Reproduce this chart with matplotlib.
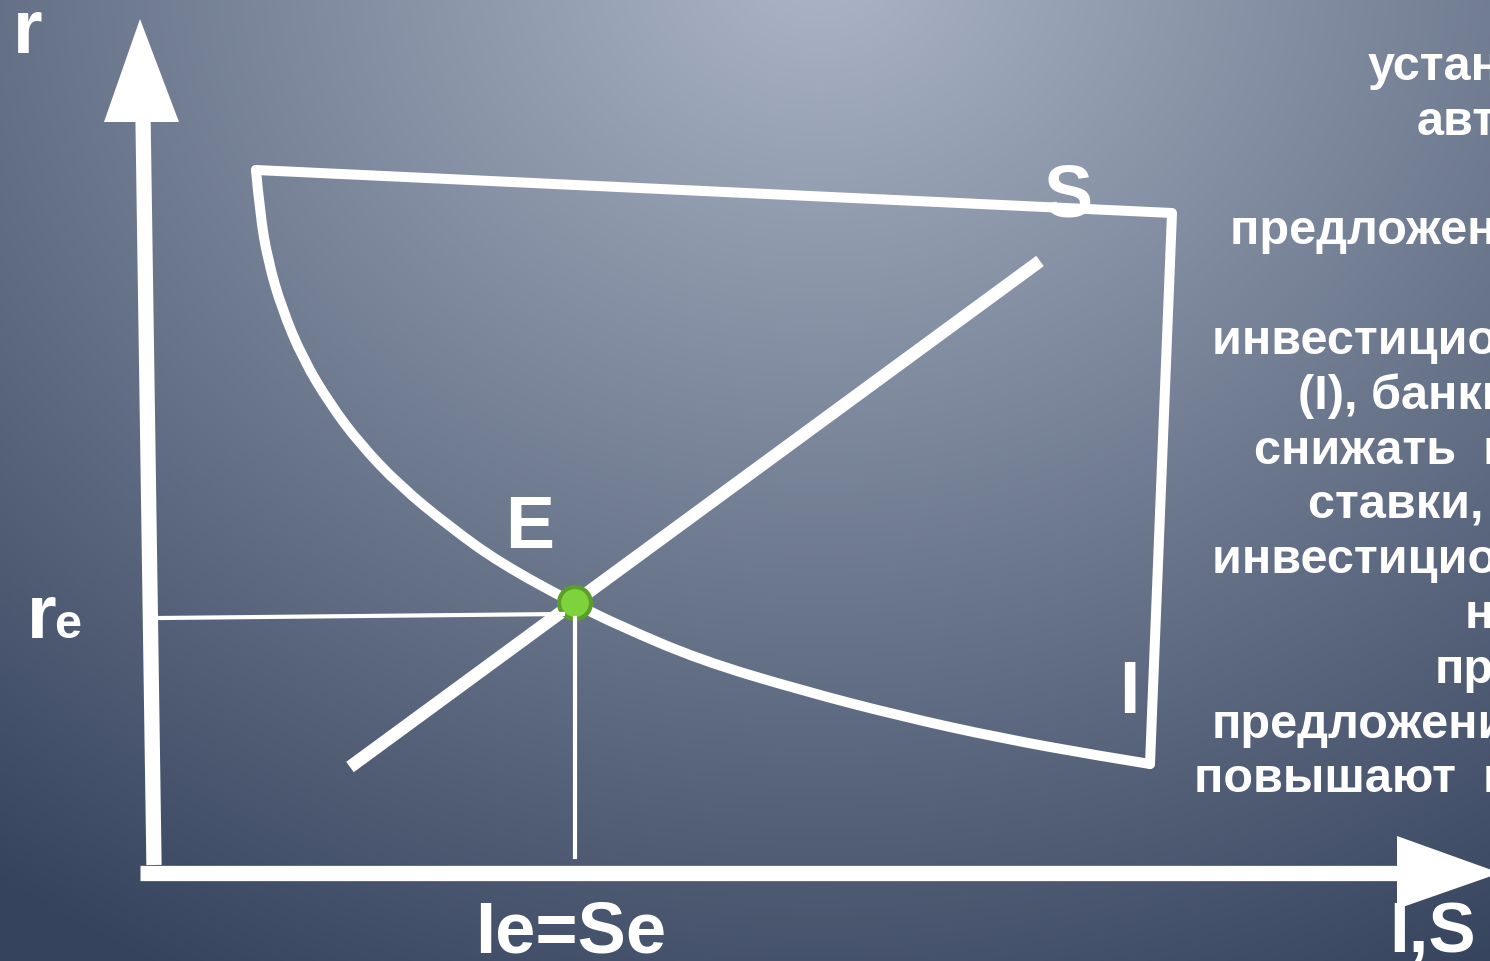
import numpy as np
import matplotlib
matplotlib.use('Agg')
import matplotlib.pyplot as plt
from matplotlib.patches import Polygon, Circle, PathPatch
from matplotlib.path import Path

plt.rcParams['font.family'] = ['Liberation Sans', 'DejaVu Sans']

W, H = 1490, 962

# investment demand curve I (slide pixel units)
i_curve_x = [256, 260, 268, 282, 303, 330, 360, 400, 450, 500, 575,
             620, 700, 800, 900, 1000, 1100, 1150]
i_curve_y = [171, 215, 262, 310, 360, 405, 445, 487, 528, 564, 605,
             627, 661, 691, 717, 739, 757, 765]
# frame that closes the I shape
frame_x = [1150, 1172, 256]
frame_y = [765, 214, 171]

# savings supply line S
s_line_x = [350, 1040]
s_line_y = [768, 262]

# equilibrium E
eq_x, eq_y = 575, 604
r_axis_x = 158

# explanatory text on the right, (line number, text)
side_text = [
    (0, "устанавливается"),
    (1, "автоматически."),
    (3, "предложения сбережений"),
    (5, "инвестиционные ресурсы"),
    (6, "(I), банки начинают"),
    (7, "снижать  процентные"),
    (8, "ставки, что стимулирует"),
    (9, "инвестиционный спрос,"),
    (10, "наоборот,"),
    (11, "при"),
    (12, "предложения"),
    (13, "повышают  процентные"),
]
side_x = {0: 1368, 1: 1417, 3: 1230, 5: 1212, 6: 1298, 7: 1254, 8: 1308,
          9: 1212, 10: 1465, 11: 1435, 12: 1212, 13: 1194}


def smooth_path(xs, ys):
    # quadratic segments through the midpoints, points act as controls
    pts = np.column_stack([xs, ys]).astype(float)
    verts = [pts[0]]
    codes = [Path.MOVETO]
    for i in range(1, len(pts) - 1):
        mid = (pts[i] + pts[i + 1]) / 2 if i < len(pts) - 2 else pts[i + 1]
        verts += [pts[i], mid]
        codes += [Path.CURVE3, Path.CURVE3]
    return Path(verts, codes)


fig = plt.figure(figsize=(W / 100, H / 100), dpi=100)
ax = fig.add_axes([0, 0, 1, 1])
ax.set_xlim(0, W)
ax.set_ylim(H, 0)
ax.axis('off')

# slide background, light near the top centre, dark towards the lower left
yy, xx = np.mgrid[0:H, 0:W]
d = np.sqrt(((xx - 820.0) / 1350.0) ** 2 + ((yy + 40.0) / 1150.0) ** 2)
d = np.clip(d, 0, 1)[..., None]
c0 = np.array([172, 182, 199]) / 255
c1 = np.array([55, 68, 94]) / 255
ax.imshow(c0 + (c1 - c0) * d, extent=[0, W, H, 0], zorder=0)

white = 'white'

# axes with arrow heads
ax.plot([154, 143], [866, 118], color=white, lw=11, solid_capstyle='butt', zorder=2)
ax.add_patch(Polygon([[104, 123], [179, 123], [140, 20]], closed=True,
                     color=white, lw=0, zorder=2))
ax.plot([140, 1400], [874, 874], color=white, lw=11, solid_capstyle='butt', zorder=2)
ax.add_patch(Polygon([[1397, 837], [1397, 910], [1500, 874]], closed=True,
                     color=white, lw=0, zorder=2))

# I curve with its frame
ax.add_patch(PathPatch(smooth_path(i_curve_x, i_curve_y), facecolor='none',
                       edgecolor=white, lw=7.2, capstyle='round', zorder=3))
ax.plot(frame_x, frame_y, color=white, lw=7.2, solid_joinstyle='round',
        solid_capstyle='round', zorder=3)
# S line
ax.plot(s_line_x, s_line_y, color=white, lw=9.2, solid_capstyle='butt', zorder=3)

# equilibrium point
ax.add_patch(Circle((eq_x, eq_y), 16, facecolor='#7ed23b', edgecolor='#5b9e2b',
                    lw=3, zorder=4))
# guide lines to the axes
ax.plot([r_axis_x + 2, eq_x - 12], [619, 615], color=white, lw=3, zorder=5)
ax.plot([eq_x, eq_x], [619, 858], color=white, lw=3, zorder=5)

bold = dict(color=white, fontweight='bold', va='baseline', ha='left', zorder=6)
ax.text(13, 53, 'r', fontsize=55, **bold)
ax.text(27, 638, 'r', fontsize=55, **bold)
ax.text(54, 638, 'e', fontsize=35, **bold)
ax.text(505, 548, 'E', fontsize=53, **bold)
ax.text(1044, 218, 'S', fontsize=53, **bold)
ax.text(1119, 713, 'I', fontsize=53, **bold)
ax.text(475, 953, 'Ie=Se', fontsize=52, **bold)
ax.text(1389, 952, 'I,S', fontsize=51, **bold)

for k, line in side_text:
    ax.text(side_x[k], 80 + 54.8 * k, line, fontsize=35, **bold)

fig.savefig('out.png', dpi=100)
